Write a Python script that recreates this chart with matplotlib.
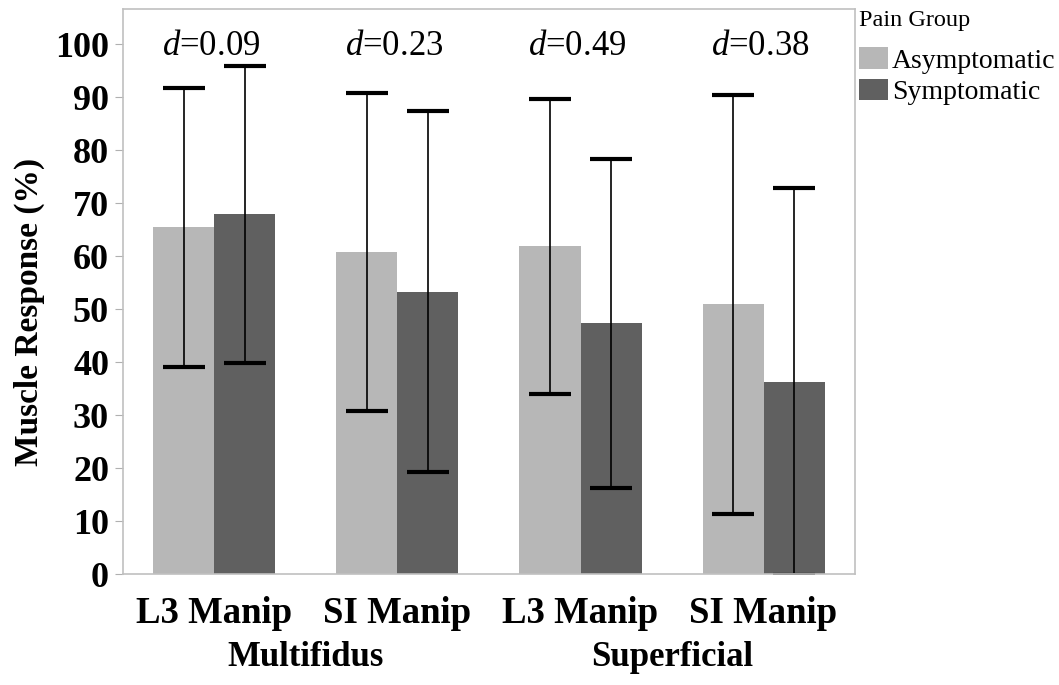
import matplotlib.pyplot as plt
import numpy as np

# values
manips = ['L3 Manip', 'SI Manip', 'L3 Manip', 'SI Manip']
muscles = ['Multifidus', 'Superficial']
asym_mean = [65.4, 60.7, 61.8, 50.9]
asym_sd = [26.3, 30.0, 27.9, 39.5]
sym_mean = [67.9, 53.3, 47.3, 36.3]
sym_sd = [28.0, 34.0, 31.0, 36.5]
effect = ['0.09', '0.23', '0.49', '0.38']

plt.rcParams['font.family'] = ['Liberation Serif', 'DejaVu Serif']
plt.rcParams['mathtext.fontset'] = 'custom'
plt.rcParams['mathtext.rm'] = 'Liberation Serif'
plt.rcParams['mathtext.it'] = 'Liberation Serif:italic'

fig = plt.figure(figsize=(10.59, 6.85), dpi=100)
ax = fig.add_axes([0.1161, 0.162, 0.6913, 0.8248])

x = np.arange(len(manips))
w = 1 / 3
err_kw = dict(fmt='none', ecolor='black', elinewidth=1.2, capsize=15, capthick=3)

ax.bar(x - w / 2, asym_mean, w, color='#b7b7b7', label='Asymptomatic')
ax.bar(x + w / 2, sym_mean, w, color='#606060', label='Symptomatic')
ax.errorbar(x - w / 2, asym_mean, yerr=asym_sd, **err_kw)
ax.errorbar(x + w / 2, sym_mean, yerr=sym_sd, **err_kw)

# effect sizes above each pair
for xi, d in zip(x, effect):
    ax.text(xi - 0.02, 98, r'$\mathit{d}$=' + d, fontsize=25, ha='center',
            va='baseline')

ax.set_xlim(-0.5, 3.5)
ax.set_ylim(0, 106.6)
ax.set_yticks(range(0, 101, 10))
ax.set_xticks(x)
ax.set_xticklabels(manips, fontsize=26.5, fontweight='bold')
ax.tick_params(axis='x', length=0, pad=16)
ax.tick_params(axis='y', length=6, color='#b0b0b0', labelsize=26, pad=4)
for lab in ax.get_yticklabels():
    lab.set_fontweight('bold')
for sp in ax.spines.values():
    sp.set_color('#c0c0c0')
    sp.set_linewidth(1.2)

# muscle group labels under the manip labels
for i, m in enumerate(muscles):
    ax.text(2 * i + 0.5, -0.147, m, transform=ax.get_xaxis_transform(),
            ha='center', va='center', fontsize=25, fontweight='bold')

fig.text(0.028, 0.545, 'Muscle Response (%)', rotation=90, ha='center',
         va='center', fontsize=24, fontweight='bold')

fig.text(0.811, 0.986, 'Pain Group', ha='left', va='top', fontsize=17.5)
fig.legend(loc='upper left', bbox_to_anchor=(0.811, 0.931),
           fontsize=20, frameon=False, handlelength=1.05,
           handleheight=0.8, handletextpad=0.15, labelspacing=0.2,
           borderaxespad=0, borderpad=0)

fig.savefig('out.png', dpi=100)
